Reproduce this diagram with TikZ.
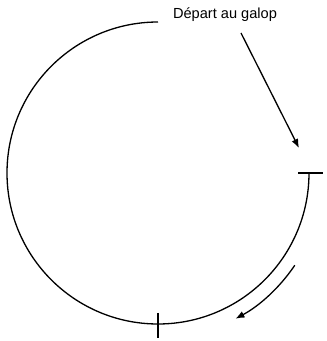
\documentclass[tikz,border=0pt]{standalone}
\usepackage{fontspec}
\setmainfont{Liberation Sans}
\usetikzlibrary{arrows.meta}
\begin{document}
\begin{tikzpicture}[x=1pt, y=1pt, line width=1.3pt]
\useasboundingbox (0,0) rectangle (327,341);
\coordinate (c) at (158,168);
\node[font=\fontsize{14.6}{16}\selectfont, anchor=base] (label) at (225,322) {Départ au galop};
\coordinate (from) at (241,308);
\coordinate (to) at (299,193);
\draw (c) ++(90:151) arc[start angle=90, end angle=360, radius=151];
\draw (c) ++(0:140) -- ++(0:25);
\draw (c) ++(270:140) -- ++(270:25);
\draw[-{Latex[length=9pt, width=7pt]}] (from) -- (to);
\draw[-{Latex[length=9pt, width=7pt]}] (c) ++(-34:165) arc[start angle=-34, end angle=-62, radius=165];
\end{tikzpicture}
\end{document}
